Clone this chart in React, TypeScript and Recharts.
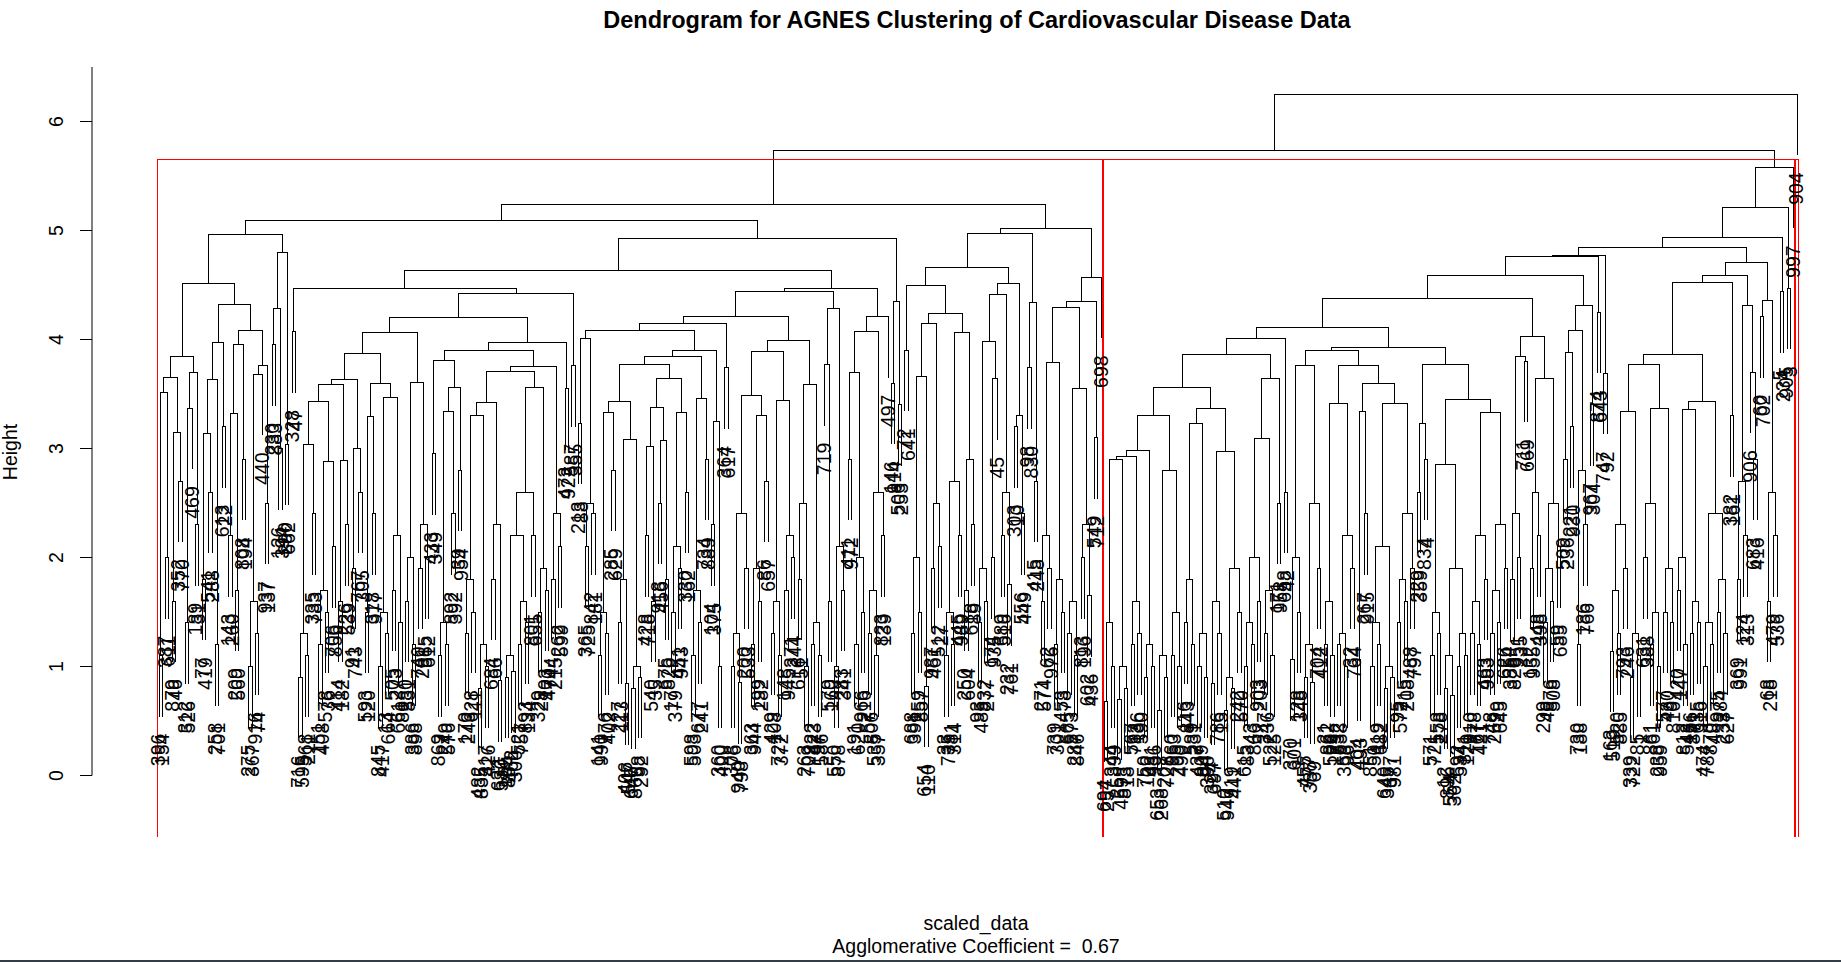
import React from 'react';
import { ComposedChart, Line, Scatter, XAxis, YAxis, ReferenceLine } from 'recharts';

// leaves left to right; a pair of labels is a small branch of two leaves
const leafGroups = [
  ['396', '154'], ['387', '611'], ['879', '46'], ['352', '770'], ['312', '526'], ['469'], ['189', '31'], ['77', '419'], ['541', '288'], ['258', '701'],
  ['613', '22'], ['143', '260'], ['209', '560'], ['808', '194'], ['275', '367'], ['916', '74'], ['440'], ['937', '137'], ['230', '883'], ['126', '394'],
  ['290', '662'], ['328', '47'], ['716', '595'], ['568', '211'], ['335', '783'], ['151', '408'], ['578', '36'], ['706', '856'], ['414', '182'], ['226', '539'],
  ['91', '743'], ['767', '305'], ['593', '120'], ['318', '977'], ['845', '417'], ['13', '664'], ['505', '273'], ['661', '80'], ['280', '531'], ['386', '898'],
  ['740', '201'], ['565', '612'], ['433', '349'], ['869', '7'], ['249', '576'], ['892', '392'], ['39', '954'], ['170', '243'], ['628', '111'], ['482', '835'],
  ['317', '426'], ['684', '66'], ['632', '580'], ['155', '884'], ['462', '300'], ['521', '757'], ['893', '134'], ['801', '655'], ['329', '28'], ['103', '470'],
  ['744', '215'], ['262', '599'], ['473', '922'], ['587', '355'], ['213', '88'], ['365', '725'], ['842', '181'], ['141', '990'], ['776', '402'], ['285', '629'],
  ['227', '113'], ['406', '547'], ['647', '860'], ['58', '292'], ['428', '718'], ['540', '35'], ['918', '456'], ['675', '826'], ['17', '379'], ['451', '943'],
  ['330', '162'], ['598', '503'], ['677', '241'], ['734', '889'], ['104', '375'], ['360', '400'], ['364', '617'], ['308', '76'], ['940', '798'], ['200', '533'],
  ['363', '944'], ['199', '282'], ['86', '657'], ['429', '108'], ['727', '372'], ['148', '945'], ['371', '244'], ['616', '51'], ['263', '709'], ['822', '423'],
  ['197', '586'], ['719'], ['579', '160'], ['550', '878'], ['283', '341'], ['411', '972'], ['191', '620'], ['966', '216'], ['57', '806'], ['535', '357'],
  ['823', '139'], ['497'], ['146', '914'], ['506', '253'], ['72', '641'], ['688', '391'], ['259', '857'], ['654', '110'], ['987', '461'], ['512', '27'],
  ['33', '735'], ['781', '314'], ['445', '989'], ['250', '604'], ['618', '89'], ['93', '485'], ['832', '277'], ['174', '935'], ['45'], ['689', '516'],
  ['232', '761'], ['303', '10'], ['556', '449'], ['98', '830'], ['415', '248'], ['271', '574'], ['62', '976'], ['739', '301'], ['453', '78'], ['665', '573'],
  ['287', '846'], ['813', '196'], ['602', '436'], ['549', '712'], ['698'], ['694', '257'], ['344', '899'], ['25', '459'], ['873', '18'], ['567', '733'],
  ['136', '590'], ['750', '102'], ['481', '936'], ['653', '268'], ['207', '728'], ['960', '53'], ['295', '490'], ['116', '843'], ['589', '231'], ['437', '909'],
  ['64', '390'], ['324', '697'], ['786', '15'], ['510', '947'], ['919', '441'], ['242', '570'], ['615', '83'], ['43', '866'], ['903', '203'], ['347', '736'],
  ['522', '125'], ['171', '958'], ['658', '42'], ['370', '601'], ['128', '348'], ['455', '777'], ['337', '69'], ['704', '412'], ['21', '862'], ['592', '179'],
  ['532', '638'], ['353', '96'], ['32', '764'], ['404', '493'], ['267', '915'], ['851', '50'], ['119', '682'], ['640', '345'], ['377', '981'], ['95', '572'],
  ['715', '208'], ['488', '797'], ['229', '359'], ['834', '4'], ['571', '721'], ['558', '278'], ['12', '896'], ['554', '362'], ['692', '534'], ['311', '129'],
  ['910', '778'], ['167', '421'], ['463', '983'], ['748', '269'], ['29', '645'], ['626', '54'], ['385', '820'], ['951', '235'], ['711', '669'], ['132', '955'],
  ['448', '398'], ['299', '40'], ['876', '508'], ['59', '685'], ['509', '236'], ['221', '930'], ['730', '188'], ['186', '766'], ['967', '304'], ['874', '643'],
  ['747', '92'], ['163', '519'], ['520', '885'], ['793', '246'], ['339', '722'], ['85', '1'], ['631', '388'], ['861', '61'], ['238', '959'], ['577', '430'],
  ['9', '810'], ['420', '147'], ['812', '543'], ['156', '871'], ['635', '316'], ['474', '787'], ['870', '48'], ['975', '284'], ['233', '627'], ['382', '161'],
  ['369', '991'], ['124', '313'], ['906'], ['683', '416'], ['60', '702'], ['68', '218'], ['479', '536'], ['5', '234'], ['905', '3'], ['997'],
  ['904'],
];

// height where the two leaves of a pair join (null: a single leaf)
const pairHeights = [
  1.1, 2.0, 1.6, 2.7, 1.4, null, 2.3, 1.8, 2.6, 1.2,
  3.2, 2.2, 1.7, 2.9, 1.0, 1.3, null, 2.5, 3.95, 3.0,
  3.04, 4.07, 0.9, 1.1, 2.4, 1.2, 1.5, 2.1, 1.6, 2.3,
  1.9, 2.6, 1.5, 2.4, 1.0, 1.3, 1.7, 1.4, 1.6, 1.2,
  1.9, 2.0, 2.95, 1.1, 1.2, 2.4, 2.8, 1.3, 1.5, 0.8,
  1.0, 1.8, 0.87, 0.9, 0.95, 1.2, 1.4, 2.2, 1.5, 1.7,
  1.8, 2.1, 3.55, 3.76, 3.23, 2.1, 2.4, 1.1, 1.3, 2.8,
  1.4, 0.84, 0.8, 0.9, 2.2, 1.6, 2.5, 1.8, 1.5, 1.9,
  2.6, 1.1, 1.4, 2.9, 2.3, 1.0, 3.74, 1.0, 0.85, 1.9,
  1.2, 1.6, 2.7, 1.3, 1.1, 1.7, 2.0, 1.8, 1.0, 1.2,
  1.1, null, 1.6, 1.0, 1.7, 2.9, 1.2, 1.5, 1.3, 1.1,
  2.2, null, 3.6, 3.4, 3.90, 1.3, 1.5, 0.82, 1.9, 2.1,
  1.1, 1.2, 2.2, 1.7, 2.3, 1.4, 1.6, 2.0, null, 2.2,
  1.75, 3.2, 2.4, 3.74, 2.7, 1.6, 1.9, 1.2, 1.5, 1.3,
  1.1, 2.0, 1.65, 3.1, null, 0.68, 1.0, 0.7, 0.8, 1.2,
  1.3, 0.9, 1.0, 0.6, 0.9, 1.1, 1.0, 1.4, 1.2, 1.0,
  0.9, 0.84, 1.3, 0.6, 0.8, 1.5, 1.0, 1.2, 1.6, 1.3,
  1.1, 2.5, 2.6, 1.06, 1.5, 0.9, 0.85, 1.9, 1.2, 1.1,
  1.2, 1.0, 1.9, 1.06, 2.4, 1.0, 1.2, 0.8, 0.9, 1.4,
  1.6, 1.9, 2.6, 2.9, 1.1, 1.3, 0.8, 0.73, 1.0, 1.1,
  1.3, 1.2, 1.8, 1.3, 1.4, 1.9, 1.8, 2.0, 3.8, 1.9,
  2.2, 1.4, 1.6, 2.1, 2.9, 3.2, 1.2, 2.3, 3.4, 4.25,
  3.69, 1.14, 1.3, 1.9, 0.9, 1.1, 2.0, 1.2, 1.0, 1.5,
  1.4, 1.7, 1.2, 1.3, 1.4, 1.0, 1.2, 1.5, 1.3, 3.3,
  1.8, 2.2, null, 2.9, 4.21, 1.6, 2.2, 4.44, 4.47, null,
  null,
];

// height where each group joins the next group to its right
const mergeHeights = [
  3.51, 3.65, 3.15, 3.84, 3.37, 3.70, 4.51, 3.14, 3.63, 3.97,
  4.32, 3.32, 3.95, 4.08, 1.6, 3.68, 3.76, 4.96, 4.28, 4.80,
  5.09, 4.47, 1.3, 3.04, 3.43, 1.7, 2.88, 3.59, 2.89, 3.63,
  3.0, 3.87, 3.29, 3.60, 1.5, 3.47, 2.2, 4.06, 2.0, 3.61,
  2.3, 4.20, 3.81, 1.4, 3.34, 3.56, 3.90, 1.8, 3.30, 1.2,
  3.42, 2.3, 3.71, 1.1, 2.2, 1.6, 2.6, 3.56, 1.9, 3.75,
  2.4, 3.97, 4.42, 4.63, 4.01, 2.5, 4.08, 1.5, 3.33, 3.43,
  1.8, 3.08, 1.0, 3.77, 3.02, 3.38, 3.07, 3.64, 2.1, 3.33,
  3.84, 1.7, 3.46, 3.90, 3.25, 4.15, 4.21, 1.3, 2.4, 3.49,
  1.9, 3.30, 3.89, 1.6, 3.44, 2.2, 3.99, 2.5, 3.59, 1.4,
  4.44, 3.77, 4.28, 2.1, 4.47, 3.70, 2.0, 4.07, 1.7, 2.6,
  4.21, 4.93, 4.35, 5.24, 4.50, 2.0, 3.66, 4.15, 2.5, 4.24,
  1.5, 2.7, 4.06, 2.9, 4.66, 1.9, 3.98, 3.64, 4.41, 2.6,
  4.51, 3.3, 4.97, 4.34, 5.02, 2.2, 3.79, 1.8, 4.29, 1.6,
  3.55, 2.3, 4.35, 4.57, 5.73, 1.4, 2.90, 1.0, 2.93, 1.6,
  2.98, 1.2, 3.30, 1.1, 2.80, 1.5, 3.56, 1.8, 3.23, 1.3,
  3.37, 1.6, 2.97, 0.9, 1.9, 3.86, 1.4, 2.0, 3.09, 1.7,
  3.64, 4.01, 4.11, 2.0, 3.76, 1.2, 2.5, 3.90, 1.6, 3.41,
  1.3, 2.2, 3.76, 3.34, 3.60, 1.4, 2.1, 1.0, 3.41, 1.8,
  2.4, 3.93, 3.23, 3.77, 1.5, 2.85, 1.1, 1.9, 1.3, 3.45,
  1.6, 2.2, 3.33, 1.7, 2.3, 4.38, 2.4, 3.84, 4.03, 2.6,
  3.64, 1.9, 2.5, 4.59, 3.88, 4.08, 2.8, 4.31, 4.76, 4.775,
  4.84, 1.7, 2.3, 3.34, 1.3, 3.77, 2.5, 1.5, 3.37, 1.9,
  3.86, 2.0, 3.36, 1.6, 3.43, 1.4, 2.4, 1.8, 4.52, 4.59,
  2.7, 4.31, 3.7, 4.71, 4.36, 2.6, 4.94, 5.21, 5.58, 6.25,
];

const heightTicks = [0, 1, 2, 3, 4, 5, 6];
const clusterCount = 3;
const hang = 0.56;

const FONT = 'Liberation Sans, Arial, Helvetica, sans-serif';

// flatten groups into leaf order and neighbour merge heights
const names: string[] = [];
const gaps: number[] = [];
leafGroups.forEach((g, i) => {
  names.push(...g);
  if (g.length === 2) gaps.push(pairHeights[i] as number);
  if (i < mergeHeights.length) gaps.push(mergeHeights[i]);
});
const N = names.length;

// pixel layout of the R plot region
const spread = 1638 / (N - 1);
const xLo = 1 - 67 / spread;
const xHi = xLo + 1749 / spread;
const yHi = 6.5;
const yLo = yHi - 770 / 109;

type Pt = { x: number; y: number | null };
type End = { x: number; y: number; name: string };

function buildTree() {
  const segs: Pt[] = [];
  const ends: End[] = [];
  const walk = (lo: number, hi: number): { x: number; h: number; leaf: boolean } => {
    if (lo === hi) return { x: lo + 1, h: 0, leaf: true };
    let k = lo;
    for (let i = lo; i < hi; i++) if (gaps[i] > gaps[k]) k = i;
    const h = gaps[k];
    const a = walk(lo, k);
    const b = walk(k + 1, hi);
    const ay = a.leaf ? h - hang : a.h;
    const by = b.leaf ? h - hang : b.h;
    if (a.leaf) ends.push({ x: a.x, y: ay, name: names[lo] });
    if (b.leaf) ends.push({ x: b.x, y: by, name: names[hi] });
    segs.push({ x: a.x, y: ay }, { x: a.x, y: h }, { x: b.x, y: h }, { x: b.x, y: by }, { x: b.x, y: null });
    return { x: (a.x + b.x) / 2, h, leaf: false };
  };
  walk(0, N - 1);
  return { segs, ends };
}

// rect.hclust(k = 3) boxes
function buildRects() {
  const sorted = [...gaps].sort((a, b) => b - a);
  const top = (sorted[clusterCount - 2] + sorted[clusterCount - 1]) / 2;
  const cuts = gaps
    .map((h, i) => ({ h, i }))
    .filter((g) => g.h >= sorted[clusterCount - 2])
    .map((g) => g.i + 1)
    .sort((a, b) => a - b);
  const m = [0, ...cuts, N];
  const pts: Pt[] = [];
  for (let i = 0; i < m.length - 1; i++) {
    const l = m[i] + 0.66;
    const r = m[i + 1] + 0.33;
    pts.push({ x: l, y: yLo }, { x: l, y: top }, { x: r, y: top }, { x: r, y: yLo }, { x: r, y: null });
  }
  return pts;
}

const { segs, ends } = buildTree();
const rects = buildRects();

const YTick = (props: any) => {
  const { x, y, payload } = props;
  const tx = x - 15;
  return (
    <text x={tx} y={y} transform={`rotate(-90, ${tx}, ${y})`} textAnchor="middle" fontSize={19.5} fontFamily={FONT} fill="#000">
      {payload.value}
    </text>
  );
};

const LeafLabel = (props: any) => {
  const { cx, cy, payload } = props;
  const tx = cx + 6.5;
  const ty = cy + 17;
  return (
    <text x={tx} y={ty} transform={`rotate(-90, ${tx}, ${ty})`} textAnchor="end" fontSize={19.5} fontFamily={FONT} fill="#000">
      {payload.name}
    </text>
  );
};

export default function App() {
  return (
    <div style={{ position: 'fixed', left: 0, top: 0, width: 1841, height: 962, background: '#fff', overflow: 'hidden' }}>
      <style>{'.dendro path { shape-rendering: crispEdges; }'}</style>
      <ComposedChart className="dendro" width={1841} height={962} margin={{ top: 67, right: 0, bottom: 125, left: 0 }}>
        <XAxis type="number" dataKey="x" domain={[xLo, xHi]} hide allowDataOverflow />
        <YAxis
          type="number"
          dataKey="y"
          domain={[yLo, yHi]}
          ticks={heightTicks}
          interval={0}
          width={92}
          axisLine={false}
          tickSize={12}
          tickLine={{ stroke: '#000', strokeWidth: 1 }}
          tick={YTick}
          allowDataOverflow
        />
        <ReferenceLine segment={[{ x: xLo, y: 0 }, { x: xLo, y: yHi }]} stroke="#000" strokeWidth={1} ifOverflow="visible" />
        <Line
          data={segs}
          dataKey="y"
          stroke="#000"
          strokeWidth={1}
          dot={false}
          activeDot={false}
          connectNulls={false}
          isAnimationActive={false}
        />
        <Scatter data={ends} shape={LeafLabel} isAnimationActive={false} />
        <Line
          data={rects}
          dataKey="y"
          stroke="#ff0000"
          strokeWidth={1}
          dot={false}
          activeDot={false}
          connectNulls={false}
          isAnimationActive={false}
        />
      </ComposedChart>
      <svg width={1841} height={962} style={{ position: 'absolute', left: 0, top: 0, pointerEvents: 'none' }}>
        <text x={977} y={27.5} textAnchor="middle" fontSize={23.5} fontWeight="bold" fontFamily={FONT} fill="#000">
          Dendrogram for AGNES Clustering of Cardiovascular Disease Data
        </text>
        <text x={17} y={452} transform="rotate(-90, 17, 452)" textAnchor="middle" fontSize={19.5} fontFamily={FONT} fill="#000">
          Height
        </text>
        <text x={976} y={930} textAnchor="middle" fontSize={19.5} fontFamily={FONT} fill="#000">
          scaled_data
        </text>
        <text x={976} y={953} textAnchor="middle" fontSize={19.5} fontFamily={FONT} fill="#000" style={{ whiteSpace: 'pre' }}>
          Agglomerative Coefficient =  0.67
        </text>
        <rect x={0} y={960} width={1841} height={2} fill="#333d45" />
      </svg>
    </div>
  );
}
